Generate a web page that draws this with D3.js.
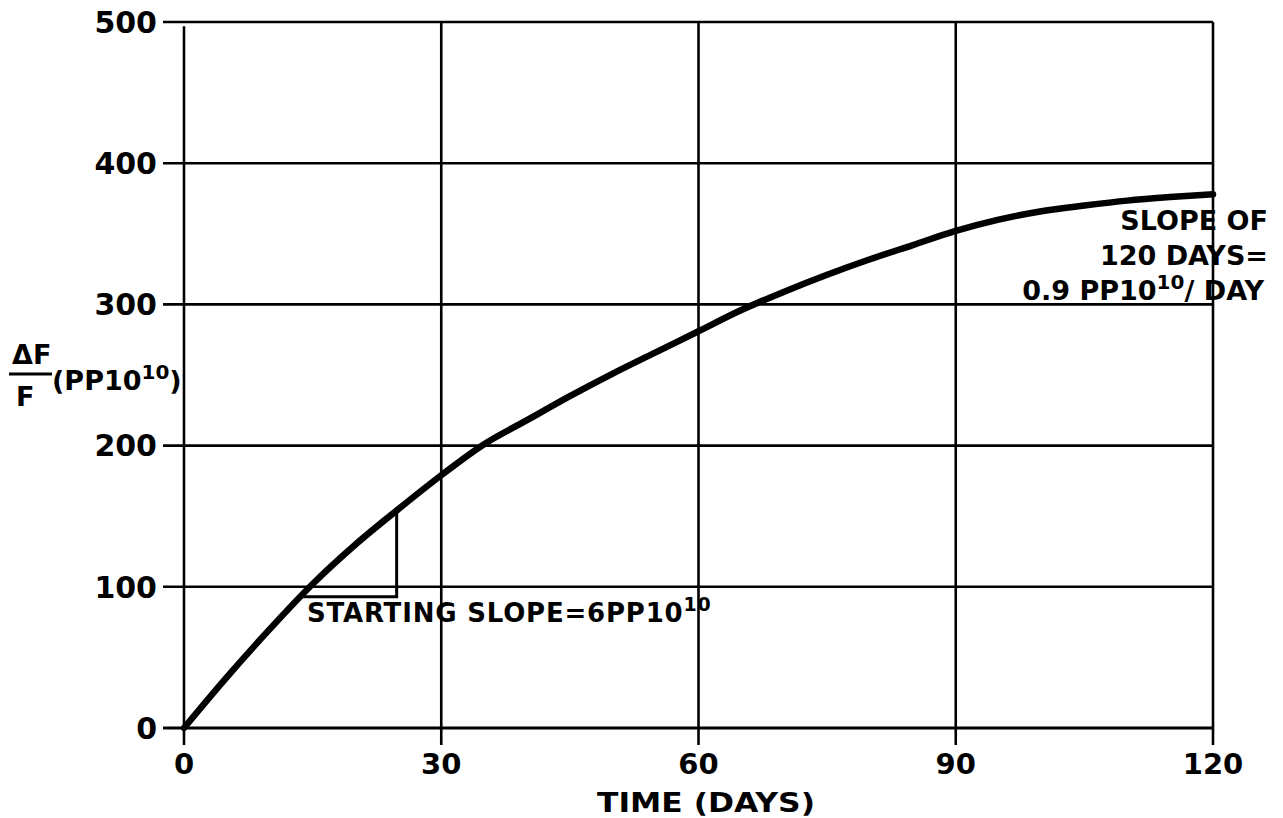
<!DOCTYPE html>
<html><head><meta charset="utf-8">
<script src="https://cdn.jsdelivr.net/npm/d3@7"></script>
<style>body{margin:0;background:#fff}svg{display:block}text{font-family:"DejaVu Sans",sans-serif;font-weight:bold;fill:#000}</style>
</head><body><svg id="c" width="1283" height="818"></svg>
<script>
const xTicks=[0,30,60,90,120];
const yTicks=[0,100,200,300,400,500];
const days=[0,5,10,15,20,25,30,35,40,45,50,55,60,65,70,75,80,85,90,95,100,105,110,115,120];
const dff=[0,36,70,102,130,155,179,201,218,235,251,266,281,296,309,321,332,342,352,360,366,370,373.5,376,378];
const svg=d3.select("#c");
const x=d3.scaleLinear().domain([0,120]).range([184,1213]);
const y=d3.scaleLinear().domain([0,500]).range([728,22]);
const g=svg.append("g");
g.selectAll(".h").data(yTicks).join("line").attr("x1",163).attr("x2",x(120))
 .attr("y1",d=>y(d)).attr("y2",d=>y(d)).attr("stroke","#000").attr("stroke-width",d=>d===0?3.2:2.6);
g.selectAll(".v").data(xTicks).join("line").attr("x1",d=>x(d)).attr("x2",d=>x(d))
 .attr("y1",d=>d===0?y(497):y(500)).attr("y2",745).attr("stroke","#000").attr("stroke-width",2.6);
g.selectAll(".yl").data(yTicks).join("text").attr("x",157).attr("y",d=>y(d)).attr("dy","0.36em")
 .attr("text-anchor","end").attr("font-size",30).text(d=>d);
g.selectAll(".xl").data(xTicks).join("text").attr("x",d=>x(d)).attr("y",774)
 .attr("text-anchor","middle").attr("font-size",29).text(d=>d);
svg.append("text").attr("x",706).attr("y",812).attr("text-anchor","middle").attr("font-size",27)
 .attr("textLength",218).attr("lengthAdjust","spacingAndGlyphs").text("TIME (DAYS)");
const line=d3.line().x(d=>x(d[0])).y(d=>y(d[1])).curve(d3.curveMonotoneX);
svg.append("path").datum(days.map((d,i)=>[d,dff[i]])).attr("d",line)
 .attr("fill","none").attr("stroke","#000").attr("stroke-width",6.5).attr("stroke-linecap","round");
const tri=[[13.8,93],[24.8,93],[24.8,154]];
svg.append("path").datum(tri).attr("d",d3.line().x(d=>x(d[0])).y(d=>y(d[1])))
 .attr("fill","none").attr("stroke","#000").attr("stroke-width",3);
const t1=svg.append("text").attr("x",307).attr("y",622).attr("font-size",26).attr("letter-spacing",0.8);
t1.append("tspan").text("STARTING SLOPE=6PP10");
t1.append("tspan").attr("dy",-11).attr("font-size",19).text("10");
const ann=[["SLOPE OF",230],["120 DAYS=",265]];
ann.forEach(a=>svg.append("text").attr("x",1268).attr("y",a[1]).attr("text-anchor","end").attr("font-size",27).text(a[0]));
const t3=svg.append("text").attr("x",1264).attr("y",300).attr("text-anchor","end").attr("font-size",27);
t3.append("tspan").text("0.9 PP10");
t3.append("tspan").attr("dy",-11).attr("font-size",20).text("10");
t3.append("tspan").attr("dy",11).text("/ DAY");
svg.append("text").attr("x",12).attr("y",364).attr("font-size",27).text("ΔF");
svg.append("line").attr("x1",9).attr("x2",52).attr("y1",374).attr("y2",374).attr("stroke","#000").attr("stroke-width",3);
svg.append("text").attr("x",16).attr("y",406).attr("font-size",27).text("F");
const t4=svg.append("text").attr("x",52).attr("y",390).attr("font-size",27);
t4.append("tspan").text("(PP10");
t4.append("tspan").attr("dy",-11).attr("font-size",20).text("10");
t4.append("tspan").attr("dy",11).text(")");
</script></body></html>
